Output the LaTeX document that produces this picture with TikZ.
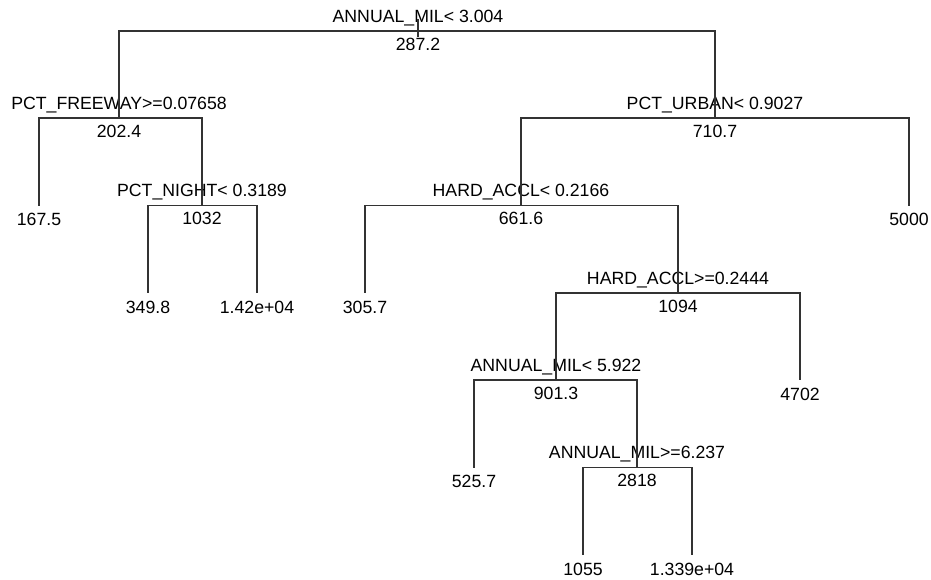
\documentclass[tikz,border=0pt]{standalone}
\usepackage{fontspec}
\setmainfont{Liberation Sans}
\usepackage{tikz}
\usetikzlibrary{positioning}

\begin{document}
\begin{tikzpicture}[x=1pt, y=-1pt,
  font=\fontsize{17.7}{20}\selectfont,
  edge/.style={draw=black!80, line width=1.2pt},
  split/.style={anchor=base, yshift=9pt, inner sep=0pt},
  value/.style={anchor=base, yshift=-19pt, inner sep=0pt},
  leaf/.style={anchor=north, inner sep=0pt, outer ysep=8pt}]
  \useasboundingbox (0,0) rectangle (931,579);
  % split points
  \coordinate (root)    at (418,31);
  \coordinate (freeway) at (119,118);
  \coordinate (night)   at (202,205.5);
  \coordinate (urban)   at (715,118);
  \coordinate (hardA)   at (521,205.5);
  \coordinate (hardB)   at (678,293);
  \coordinate (milA)    at (556,380);
  \coordinate (milB)    at (637,467.5);
  % split labels and fitted values
  \node[split] (rootlab)    at (root)    {ANNUAL\_MIL< 3.004};
  \node[value] (rootval)    at (root)    {287.2};
  \node[split] (freewaylab) at (freeway) {PCT\_FREEWAY>=0.07658};
  \node[value] (freewayval) at (freeway) {202.4};
  \node[split] (nightlab)   at (night)   {PCT\_NIGHT< 0.3189};
  \node[value] (nightval)   at (night)   {1032};
  \node[split] (urbanlab)   at (urban)   {PCT\_URBAN< 0.9027};
  \node[value] (urbanval)   at (urban)   {710.7};
  \node[split] (hardAlab)   at (hardA)   {HARD\_ACCL< 0.2166};
  \node[value] (hardAval)   at (hardA)   {661.6};
  \node[split] (hardBlab)   at (hardB)   {HARD\_ACCL>=0.2444};
  \node[value] (hardBval)   at (hardB)   {1094};
  \node[split] (milAlab)    at (milA)    {ANNUAL\_MIL< 5.922};
  \node[value] (milAval)    at (milA)    {901.3};
  \node[split] (milBlab)    at (milB)    {ANNUAL\_MIL>=6.237};
  \node[value] (milBval)    at (milB)    {2818};
  % leaves
  \node[leaf] (leafA) at (39,205.5)  {167.5};
  \node[leaf] (leafB) at (148,293)   {349.8};
  \node[leaf] (leafC) at (257,293)   {1.42e+04};
  \node[leaf] (leafD) at (909,205.5) {5000};
  \node[leaf] (leafE) at (365,293)   {305.7};
  \node[leaf] (leafF) at (800,380)   {4702};
  \node[leaf] (leafG) at (474,467.5) {525.7};
  \node[leaf] (leafH) at (583,555)   {1055};
  \node[leaf] (leafI) at (692,555)   {1.339e+04};
  % branches
  \draw[edge] ([yshift=12pt]root) -- ([yshift=-6pt]root);
  \draw[edge] (root) -| (freeway); \draw[edge] (root) -| (urban);
  \draw[edge] (freeway) -| (leafA); \draw[edge] (freeway) -| (night);
  \draw[edge] (night) -| (leafB); \draw[edge] (night) -| (leafC);
  \draw[edge] (urban) -| (hardA); \draw[edge] (urban) -| (leafD);
  \draw[edge] (hardA) -| (leafE); \draw[edge] (hardA) -| (hardB);
  \draw[edge] (hardB) -| (milA); \draw[edge] (hardB) -| (leafF);
  \draw[edge] (milA) -| (leafG); \draw[edge] (milA) -| (milB);
  \draw[edge] (milB) -| (leafH); \draw[edge] (milB) -| (leafI);
\end{tikzpicture}
\end{document}
